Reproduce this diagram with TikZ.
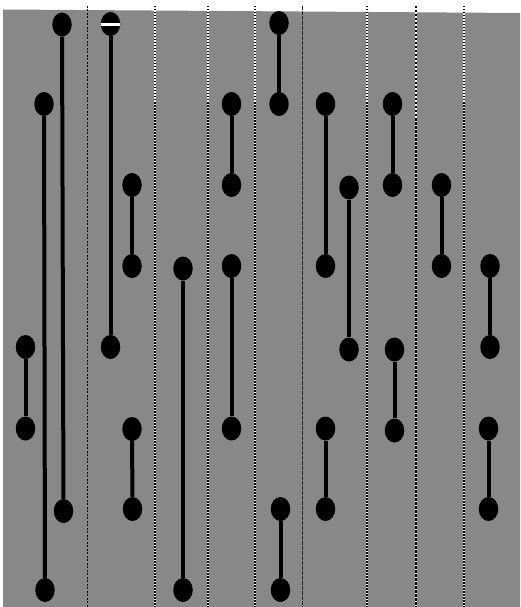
\documentclass[tikz,border=0pt]{standalone}
\usetikzlibrary{shapes.geometric}
\definecolor{bggray}{RGB}{136,136,136}
\tikzset{
  dot/.style={ellipse, fill=black, draw=none, minimum width=19.5pt, minimum height=24pt, inner sep=0pt},
  conn/.style={line width=4pt, black},
  sepdark/.style={line width=1.1pt, black, dash pattern=on 2pt off 1.5pt},
  sepwhite/.style={line width=2pt, white},
  sepdots/.style={line width=2pt, black, dash pattern=on 1.5pt off 1.5pt},
  septhick/.style={line width=2.2pt, black, dash pattern=on 2.5pt off 1.5pt}
}
\begin{document}
\begin{tikzpicture}[x=1pt,y=-1pt]
\useasboundingbox (0,0) rectangle (520,607);
\fill[white] (0,0) rectangle (520,607);
\fill[bggray] (3,9.5) -- (520,13) -- (520,607) -- (3,607) -- cycle;
% separators
\draw[sepdark] (87.3,6) -- (87.3,607);
\foreach \x in {155.3,208.3,255,367.3,464.3}{
  \draw[sepwhite] (\x,6) -- (\x,607);
  \draw[sepdots] (\x,6) -- (\x,607);
}
\draw[line width=1.1pt, black!85, dash pattern=on 4pt off 1pt] (302.3,6) -- (302.3,607);
\draw[sepwhite] (416,6) -- (416,607);
\draw[septhick] (416,6) -- (416,607);
% nodes
\node[dot] (a1) at (25.5,347) {};
\node[dot] (a2) at (25.5,428.5) {};
\node[dot] (b1) at (44,104) {};
\node[dot] (b2) at (45,590) {};
\node[dot] (c1) at (62,24.5) {};
\node[dot] (c2) at (63.5,511) {};
\node[dot] (d1) at (110.5,24) {};
\node[dot] (d2) at (110.5,347) {};
\node[dot] (e1) at (132,185) {};
\node[dot] (e2) at (132,266) {};
\node[dot] (e3) at (132,429) {};
\node[dot] (e4) at (132.5,509) {};
\node[dot] (f1) at (183,268.5) {};
\node[dot] (f2) at (183,590) {};
\node[dot] (g1) at (231.5,104) {};
\node[dot] (g2) at (231.5,185) {};
\node[dot] (g3) at (231.5,266) {};
\node[dot] (g4) at (231.5,428.5) {};
\node[dot] (h1) at (279,23) {};
\node[dot] (h2) at (279,104) {};
\node[dot] (h3) at (280.5,509) {};
\node[dot] (h4) at (280.5,590) {};
\node[dot] (i1) at (325.5,104) {};
\node[dot] (i2) at (325.5,266) {};
\node[dot] (i3) at (325.5,428.5) {};
\node[dot] (i4) at (325.5,509) {};
\node[dot] (j1) at (349,187.5) {};
\node[dot] (j2) at (349,349.5) {};
\node[dot] (k1) at (392.5,104) {};
\node[dot] (k2) at (392.5,185) {};
\node[dot] (k3) at (394.5,349.5) {};
\node[dot] (k4) at (394.5,430.5) {};
\node[dot] (l1) at (441.5,185) {};
\node[dot] (l2) at (441.5,266) {};
\node[dot] (m1) at (490,266) {};
\node[dot] (m2) at (490,347) {};
\node[dot] (m3) at (488.5,428.5) {};
\node[dot] (m4) at (488.5,509) {};
% connectors
\draw[conn] (a1) -- (a2);
\draw[conn] (b1) -- (b2);
\draw[conn] (c1) -- (c2);
\draw[conn] (d1) -- (d2);
\draw[conn] (e1) -- (e2);
\draw[conn] (e3) -- (e4);
\draw[conn] (f1) -- (f2);
\draw[conn] (g1) -- (g2);
\draw[conn] (g3) -- (g4);
\draw[conn] (h1) -- (h2);
\draw[conn] (h3) -- (h4);
\draw[conn] (i1) -- (i2);
\draw[conn] (i3) -- (i4);
\draw[conn] (j1) -- (j2);
\draw[conn] (k1) -- (k2);
\draw[conn] (k3) -- (k4);
\draw[conn] (l1) -- (l2);
\draw[conn] (m1) -- (m2);
\draw[conn] (m3) -- (m4);
% white stripe across top node of column d
\draw[white, line width=2.5pt] ([yshift=-0.5pt]d1.west) -- ([yshift=-0.5pt]d1.east);
\end{tikzpicture}
\end{document}
